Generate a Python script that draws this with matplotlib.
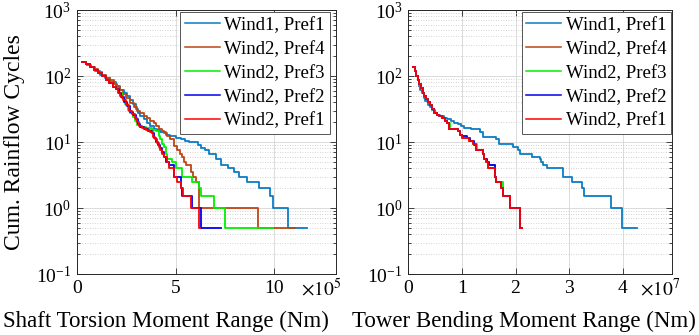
#
########################################################################
# Libraries
########################################################################
#
import numpy as np
import matplotlib
matplotlib.use("Agg")
from matplotlib import pyplot as plt
from matplotlib.ticker import LogLocator, NullFormatter, NullLocator

#
########################################################################
# Data
########################################################################
#
SeriesNames = ["Wind1, Pref1", "Wind2, Pref4", "Wind2, Pref3", "Wind2, Pref2", "Wind2, Pref1"]
SeriesColors = ["#0A7CC4", "#BF4412", "#00F000", "#0000F0", "#FF0000"]

# Shaft torsion moment range, x in 1e5 Nm
ShaftW1P1_x = [0.51, 0.7, 0.9, 1.16, 1.4, 1.7, 2.0, 2.2, 2.4, 2.55, 2.7, 2.85, 3.0, 3.1, 3.21, 3.4, 3.55, 3.72, 3.9, 4.05,
               4.23, 4.5, 4.74, 5.0, 5.26, 5.5, 5.7, 6.11, 6.28, 6.5, 6.7, 7.04, 7.3, 7.64, 7.98, 8.2, 8.6, 9.2, 9.8, 9.95, 10.7, 11.65]
ShaftW1P1_y = [145, 135, 120, 105, 94, 80, 70, 62, 55, 49, 44, 38, 32, 28, 25, 22, 19.5, 17.5, 16, 15,
               14, 13, 12.3, 11.5, 11, 10.5, 10, 9, 8, 7.5, 6.5, 5.5, 4.5, 4.0, 3.5, 3.0, 2.5, 2.0, 1.5, 1.0, 0.5, 0.5]

ShaftW2P4_x = [0.27, 0.45, 0.65, 0.85, 1.05, 1.25, 1.45, 1.67, 1.9, 2.05, 2.18, 2.35, 2.5, 2.7, 2.9, 3.05, 3.21, 3.4, 3.55, 3.7,
               3.89, 4.0, 4.15, 4.3, 4.4, 4.57, 4.74, 4.91, 5.09, 5.2, 5.34, 5.43, 5.51, 5.77, 5.9, 6.02, 6.19, 9.17, 11.06]
ShaftW2P4_y = [161, 151, 139, 126, 114, 104, 95, 88, 75, 68, 62, 54, 46, 39, 34, 30, 27.5, 25, 23, 21,
               19.5, 17.5, 15.5, 14.5, 13.5, 12.3, 11, 8.7, 7.7, 6.5, 6.0, 5.0, 4.5, 3.5, 3.0, 2.5, 1.0, 0.5, 0.5]

ShaftW2P3_x = [0.27, 0.45, 0.65, 0.85, 1.05, 1.25, 1.45, 1.65, 1.85, 2.0, 2.15, 2.3, 2.45, 2.6, 2.7, 2.85, 2.95, 3.04, 3.2, 3.5,
               3.8, 4.0, 4.14, 4.23, 4.32, 4.4, 4.49, 4.57, 4.8, 5.0, 5.3, 5.85, 6.19, 6.3, 6.96, 7.52, 9.93]
ShaftW2P3_y = [161, 150, 137, 123, 110, 99, 88, 78, 69, 63, 55, 47, 38, 31, 28, 24, 21, 18, 17, 16.5,
               15, 14.5, 12.5, 11, 9.5, 8.5, 6.5, 5.5, 5.0, 4.0, 3.0, 2.5, 2.0, 1.5, 1.0, 0.5, 0.5]

ShaftW2P2_x = [0.27, 0.45, 0.65, 0.85, 1.05, 1.25, 1.45, 1.65, 1.85, 2.0, 2.12, 2.25, 2.4, 2.55, 2.7, 2.85, 3.0, 3.1, 3.2, 3.4,
               3.6, 3.8, 3.92, 4.02, 4.12, 4.22, 4.3, 4.4, 4.5, 4.66, 4.91, 5.26, 5.34, 5.85, 6.28, 7.3]
ShaftW2P2_y = [161, 150, 137, 123, 110, 99, 88, 78, 69, 63, 55, 48, 41, 35, 29, 25.5, 22, 19, 17, 15.5,
               14.5, 13.5, 11.5, 10, 9, 8, 7, 6, 5, 4.5, 3.0, 2.0, 1.5, 1.0, 0.5, 0.5]

ShaftW2P1_x = [0.27, 0.45, 0.65, 0.85, 1.05, 1.25, 1.45, 1.65, 1.85, 2.0, 2.1, 2.2, 2.35, 2.5, 2.65, 2.8, 2.95, 3.05, 3.15, 3.3,
               3.5, 3.7, 3.85, 3.95, 4.06, 4.15, 4.23, 4.32, 4.4, 4.57, 4.66, 4.91, 5.05, 5.28, 5.36, 5.8, 6.18, 6.25]
ShaftW2P1_y = [161, 150, 137, 123, 110, 99, 88, 78, 69, 63, 55, 50, 43, 36, 30, 26.5, 23, 20, 17.5, 16.5,
               15, 14, 12, 11, 9.8, 8.5, 7.5, 6.5, 6.0, 5.0, 4.0, 3.0, 2.5, 2.0, 1.5, 1.0, 0.5, 0.5]

# Tower bending moment range, x in 1e7 Nm
TowerW1P1_x = [0.20, 0.22, 0.25, 0.29, 0.32, 0.36, 0.40, 0.45, 0.50, 0.54, 0.60, 0.67, 0.73, 0.80, 0.86, 0.92, 0.98, 1.04, 1.17, 1.33,
               1.39, 1.64, 1.70, 1.95, 2.05, 2.08, 2.30, 2.45, 2.48, 2.52, 2.58, 2.89, 3.05, 3.23, 3.27, 3.77, 3.98, 4.27]
TowerW1P1_y = [70, 62, 55, 47, 42, 37, 34, 31, 28, 26, 24.5, 23, 22, 20.5, 19.5, 18.5, 17.5, 16.5, 15.5, 14,
               12, 11, 9.5, 8.5, 7.5, 6.5, 6.0, 5.5, 5.0, 4.5, 4.0, 3.0, 2.5, 2.0, 1.5, 1.0, 0.5, 0.5]

TowerW2P4_x = [0.09, 0.12, 0.15, 0.18, 0.21, 0.24, 0.27, 0.30, 0.33, 0.36, 0.40, 0.44, 0.48, 0.53, 0.58, 0.63, 0.68, 0.72, 0.76, 0.92,
               0.96, 1.01, 1.14, 1.20, 1.26, 1.39, 1.42, 1.45, 1.48, 1.61, 1.63, 1.73, 1.76, 1.89, 2.08, 2.12]
TowerW2P4_y = [135, 118, 100, 86, 75, 65, 56, 50, 45, 41, 36, 32, 28, 26, 25, 23, 21, 19.5, 16, 14.5,
               13, 11.5, 10.5, 9.5, 7.5, 6.5, 5.5, 5.0, 4.0, 3.0, 2.5, 2.0, 1.5, 1.0, 0.5, 0.5]

TowerW2P3_x = [0.09, 0.12, 0.15, 0.18, 0.21, 0.24, 0.27, 0.30, 0.33, 0.36, 0.40, 0.44, 0.48, 0.53, 0.58, 0.63, 0.68, 0.72, 0.78, 0.92,
               0.96, 1.01, 1.14, 1.20, 1.28, 1.39, 1.42, 1.47, 1.50, 1.62, 1.64, 1.76, 1.89, 2.08, 2.12]
TowerW2P3_y = [135, 118, 100, 86, 75, 65, 56, 50, 45, 41, 36, 32, 28, 26, 25, 23, 21, 19.5, 16, 14.5,
               13, 11.5, 10.5, 9.5, 7.5, 6.5, 5.5, 5.0, 4.5, 3.0, 2.5, 1.5, 1.0, 0.5, 0.5]

TowerW2P2_x = [0.09, 0.12, 0.15, 0.18, 0.21, 0.24, 0.27, 0.30, 0.33, 0.36, 0.40, 0.44, 0.48, 0.53, 0.58, 0.63, 0.68, 0.72, 0.76, 0.92,
               0.96, 1.01, 1.10, 1.16, 1.22, 1.27, 1.39, 1.42, 1.46, 1.50, 1.61, 1.63, 1.73, 1.76, 1.89, 2.08, 2.12]
TowerW2P2_y = [135, 118, 100, 86, 75, 65, 56, 50, 45, 41, 36, 32, 28, 26, 25, 23, 21, 19.5, 16, 14.5,
               13, 12.5, 11.5, 10.5, 9, 7.5, 6.5, 5.5, 5.0, 4.5, 3.0, 2.5, 2.0, 1.5, 1.0, 0.5, 0.5]

TowerW2P1_x = [0.09, 0.12, 0.15, 0.18, 0.21, 0.24, 0.27, 0.30, 0.33, 0.36, 0.40, 0.44, 0.48, 0.53, 0.58, 0.63, 0.68, 0.72, 0.76, 0.92,
               0.96, 1.01, 1.14, 1.20, 1.26, 1.39, 1.42, 1.45, 1.48, 1.61, 1.63, 1.73, 1.76, 1.89, 2.08, 2.12]
TowerW2P1_y = [135, 118, 100, 86, 75, 65, 56, 50, 45, 41, 36, 32, 28, 26, 25, 23, 21, 19.5, 16, 14.5,
               13, 11.5, 10.5, 9.5, 7.5, 6.5, 5.5, 5.0, 4.0, 3.0, 2.5, 2.0, 1.5, 1.0, 0.5, 0.5]

ShaftSeries = [(ShaftW1P1_x, ShaftW1P1_y), (ShaftW2P4_x, ShaftW2P4_y), (ShaftW2P3_x, ShaftW2P3_y),
               (ShaftW2P2_x, ShaftW2P2_y), (ShaftW2P1_x, ShaftW2P1_y)]
TowerSeries = [(TowerW1P1_x, TowerW1P1_y), (TowerW2P4_x, TowerW2P4_y), (TowerW2P3_x, TowerW2P3_y),
               (TowerW2P2_x, TowerW2P2_y), (TowerW2P1_x, TowerW2P1_y)]

#
########################################################################
# General settings
########################################################################
#
plt.rcParams["font.family"] = ["Liberation Serif", "DejaVu Serif"]
plt.rcParams["mathtext.fontset"] = "stix"
EdgeGray = "#262626"


def DrawPanel(Axes, Series, Scale, XMax, XTicks, XTickLabels, Exponent, XLabel, LabelX, LegendX):
    for (xs, ys), Name, Color in zip(Series, SeriesNames, SeriesColors):
        Axes.plot(np.array(xs) * Scale, ys, drawstyle="steps-post", color=Color, lw=1.3, label=Name)
    Axes.set_yscale("log")
    Axes.set_ylim(0.1, 1000)
    Axes.set_xlim(0, XMax)
    Axes.set_xticks(XTicks)
    Axes.set_xticklabels(XTickLabels)
    Axes.xaxis.set_minor_locator(NullLocator())
    Axes.yaxis.set_major_locator(LogLocator(base=10, numticks=10))
    Axes.yaxis.set_minor_locator(LogLocator(base=10, subs=np.arange(2, 10), numticks=20))
    Axes.yaxis.set_minor_formatter(NullFormatter())
    Axes.tick_params(which="both", direction="in", top=True, right=True, labelsize=14,
                     color=EdgeGray, width=0.6)
    Axes.tick_params(which="major", length=4, pad=4)
    Axes.tick_params(which="minor", length=2)
    Axes.grid(True, which="major", color="#D6D6D6", lw=0.6)
    Axes.grid(True, which="minor", axis="y", color="#C4C4C4", lw=0.6, ls=(0, (1, 2)))
    Axes.set_axisbelow(True)
    for Spine in Axes.spines.values():
        Spine.set_color(EdgeGray)
        Spine.set_linewidth(0.7)
    Axes.set_xlabel(XLabel, fontsize=16.5)
    Axes.xaxis.set_label_coords(LabelX, -0.14)
    Axes.text(LegendX[1], -0.055, r"$\times10^{%d}$" % Exponent, transform=Axes.transAxes,
              fontsize=14, ha="left", va="center")
    Legend = Axes.legend(loc="upper right", bbox_to_anchor=(LegendX[0], 0.992), fontsize=13.5,
                         fancybox=False, framealpha=1, edgecolor="#555555", borderpad=0.25,
                         labelspacing=0.36, handlelength=1.85, handletextpad=0.25, borderaxespad=0.0)
    Legend.get_frame().set_linewidth(0.7)
    for Line in Legend.get_lines():
        Line.set_linewidth(1.1)


#
########################################################################
# Figure
########################################################################
#
Figura = plt.figure(figsize=(6.99, 3.35), dpi=100)

EixoShaft = Figura.add_axes([0.110, 0.182, 0.370, 0.788])
DrawPanel(EixoShaft, ShaftSeries, 1e5, 1.31e6, [0, 5e5, 10e5], ["0", "5", "10"], 5,
          "Shaft Torsion Moment Range (Nm)", 0.344, (0.977, 0.866))
EixoShaft.set_ylabel("Cum. Rainflow Cycles", fontsize=17)
EixoShaft.yaxis.set_label_coords(-0.20, 0.5)

EixoTower = Figura.add_axes([0.584, 0.182, 0.377, 0.788])
DrawPanel(EixoTower, TowerSeries, 1e7, 4.91e7, [0, 1e7, 2e7, 3e7, 4e7], ["0", "1", "2", "3", "4"], 7,
          "Tower Bending Moment Range (Nm)", 0.44, (0.997, 0.88))

Figura.savefig("out.png", dpi=100)

########################################################################
# End
########################################################################
